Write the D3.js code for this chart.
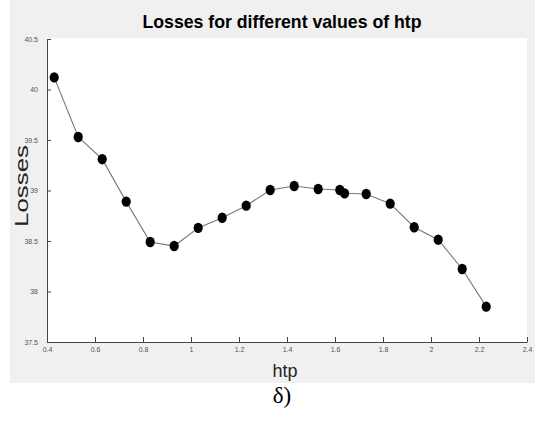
<!DOCTYPE html>
<html><head><meta charset="utf-8">
<script src="https://cdn.jsdelivr.net/npm/d3@7"></script>
<style>body{margin:0;background:#fff}svg{display:block}</style>
</head><body>
<script>
const htp = [0.43,0.53,0.63,0.73,0.83,0.93,1.03,1.13,1.23,1.33,1.43,1.53,1.62,1.64,1.73,1.83,1.93,2.03,2.13,2.23];
const losses = [40.12,39.53,39.31,38.89,38.49,38.45,38.63,38.73,38.85,39.005,39.045,39.015,39.005,38.972,38.965,38.87,38.636,38.513,38.223,37.85];
const xTicks = [0.4,0.6,0.8,1,1.2,1.4,1.6,1.8,2,2.2,2.4];
const yTicks = [37.5,38,38.5,39,39.5,40,40.5];
const titleText = "Losses for different values of htp";
const xLabel = "htp", yLabel = "Losses", caption = "δ)";

const W=535,H=423;
const svg=d3.select("body").append("svg").attr("width",W).attr("height",H);
svg.append("rect").attr("x",10).attr("y",0).attr("width",W-10).attr("height",383).attr("fill","#f0f0f0");
const L=47,R=527,T=38,B=342;
svg.append("rect").attr("x",L).attr("y",T).attr("width",R-L).attr("height",B-T).attr("fill","#fff");
const x=d3.scaleLinear().domain([0.4,2.4]).range([L,R]);
const y=d3.scaleLinear().domain([37.5,40.5]).range([B,T+1]);

const xa=svg.append("g").attr("transform",`translate(0,${B})`)
  .call(d3.axisBottom(x).tickValues(xTicks).tickFormat(d3.format("")).tickSizeInner(-5).tickSizeOuter(0).tickPadding(5));
const ya=svg.append("g").attr("transform",`translate(${L},0)`)
  .call(d3.axisLeft(y).tickValues(yTicks).tickFormat(d3.format("")).tickSizeInner(-4).tickSizeOuter(0).tickPadding(9));
[xa,ya].forEach(g=>{
  g.select(".domain").attr("stroke","#444").attr("stroke-width",1);
  g.selectAll(".tick line").attr("stroke","#444");
  g.selectAll(".tick text").attr("fill","#555").attr("font-family","Liberation Sans, Arial, sans-serif").attr("font-size",7);
});

const line=d3.line().x((d,i)=>x(htp[i])).y(d=>y(d));
svg.append("path").datum(losses).attr("d",line).attr("fill","none").attr("stroke","#777").attr("stroke-width",1.1);
svg.selectAll("ellipse.pt").data(losses).enter().append("ellipse").attr("class","pt")
  .attr("cx",(d,i)=>x(htp[i])).attr("cy",d=>y(d)).attr("rx",4.6).attr("ry",5.2).attr("fill","#000");

svg.append("text").attr("x",282).attr("y",28).attr("text-anchor","middle")
  .attr("font-family","Liberation Sans, Arial, sans-serif").attr("font-weight","bold").attr("font-size",19)
  .attr("textLength",279).attr("lengthAdjust","spacingAndGlyphs").attr("fill","#000").text(titleText);
svg.append("text").attr("transform","translate(28,186) rotate(-90)").attr("text-anchor","middle")
  .attr("font-family","Liberation Sans, Arial, sans-serif").attr("font-size",18)
  .attr("textLength",82).attr("lengthAdjust","spacingAndGlyphs").attr("fill","#222").text(yLabel);
svg.append("text").attr("x",285).attr("y",377).attr("text-anchor","middle")
  .attr("font-family","Liberation Sans, Arial, sans-serif").attr("font-size",18).attr("fill","#222").text(xLabel);
svg.append("text").attr("x",282).attr("y",403).attr("text-anchor","middle")
  .attr("font-family","Liberation Serif, Times New Roman, serif").attr("font-size",23).attr("fill","#000").text(caption);
</script>
</body></html>
